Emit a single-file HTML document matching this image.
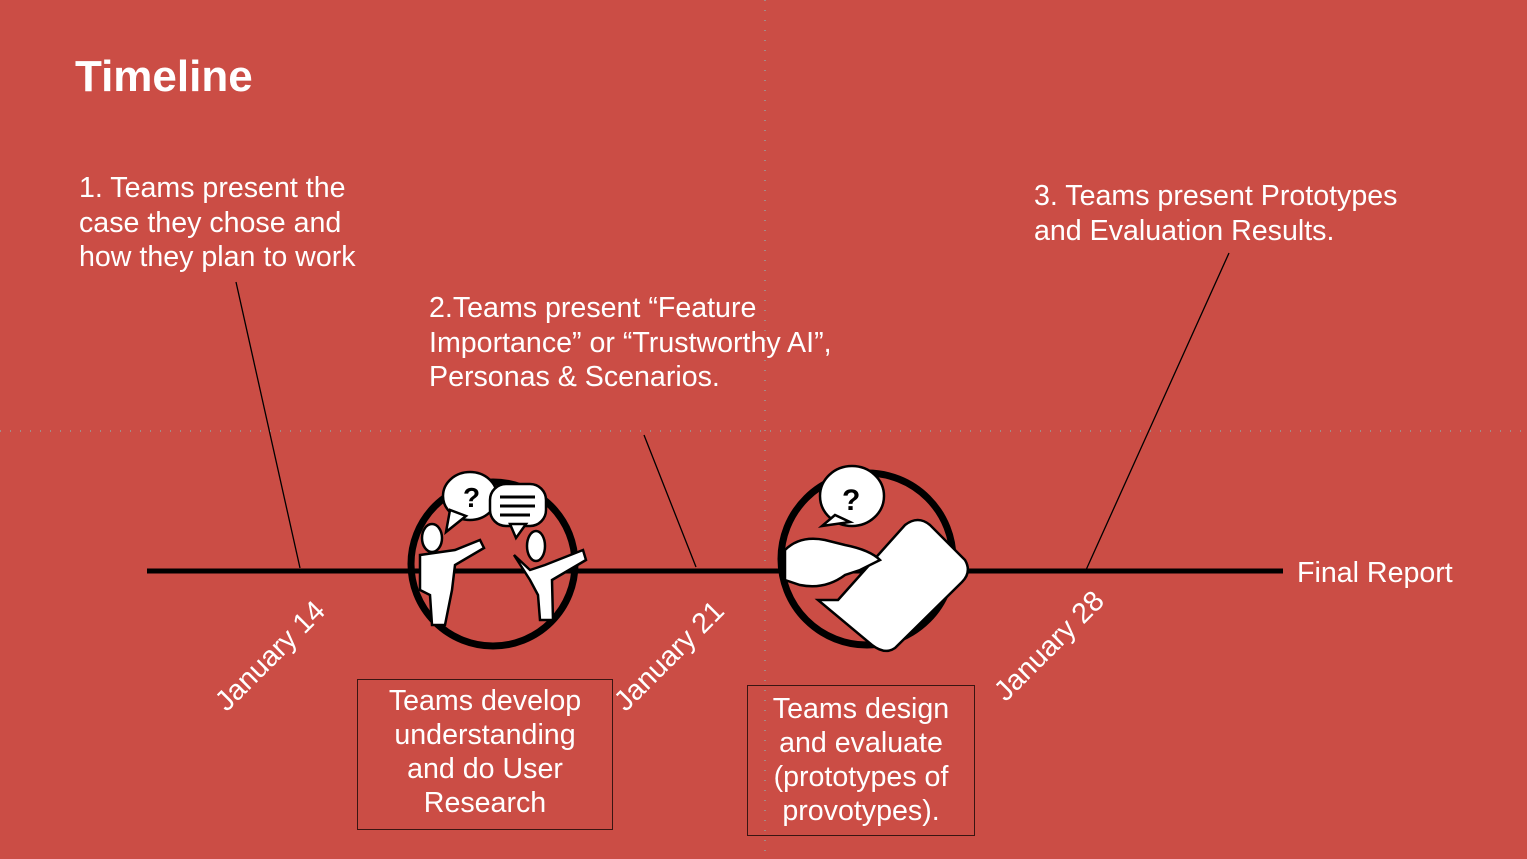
<!DOCTYPE html>
<html><head><style>
body{margin:0;width:1527px;height:859px;background:#CB4D45;position:relative;overflow:hidden;font-family:"Liberation Sans",Arial,sans-serif;color:#fff}
.t{position:absolute;font-size:28.6px;line-height:34.5px;white-space:nowrap}
.box{position:absolute;border:1.5px solid #3a1512;font-size:28.6px;line-height:34px;text-align:center;box-sizing:border-box;white-space:nowrap}
.d{position:absolute;font-size:28.6px;transform:rotate(-45deg);transform-origin:center;white-space:nowrap}
</style></head><body>
<svg width="1527" height="859" style="position:absolute;left:0;top:0">
<g stroke="#7fc8c8" stroke-width="1" stroke-dasharray="1 9">
<line x1="0" y1="431" x2="1527" y2="431"/><line x1="765" y1="0" x2="765" y2="859"/>
</g>
<line x1="147" y1="571" x2="1283" y2="571" stroke="#000" stroke-width="5"/>
<g stroke="#000" stroke-width="1.3">
<line x1="236" y1="282" x2="300" y2="568"/><line x1="644" y1="435" x2="696" y2="567"/><line x1="1229" y1="253" x2="1086" y2="570"/>
</g>
<circle cx="493" cy="564" r="82" fill="none" stroke="#000" stroke-width="7"/>
<circle cx="867" cy="559" r="86" fill="none" stroke="#000" stroke-width="7"/>
<g fill="#fff" stroke="#000" stroke-width="2.5">
<ellipse cx="470" cy="496" rx="27" ry="24"/><path d="M450 510 L446 532 L466 516Z"/>
<rect x="490" y="484" width="56" height="42" rx="16"/><path d="M510 524 L516 538 L526 524Z"/>
<ellipse cx="432" cy="538" rx="10" ry="14"/><path d="M420 555 L455 550 L480 540 L484 548 L455 565 L452 590 L445 625 L432 625 L430 595 L420 590Z"/>
<ellipse cx="536" cy="546" rx="9" ry="15"/><path d="M514 555 L530 570 L545 565 L583 550 L586 560 L552 580 L553 620 L540 620 L538 595 L530 580Z"/>
<ellipse cx="852" cy="496" rx="32" ry="30"/><path d="M835 515 L822 526 L850 522Z"/>
<path d="M838 600 L905 525 Q918 515 930 525 L965 560 Q972 572 962 582 L895 648 Q885 655 872 645 L818 600Z"/>
<path d="M785 550 Q800 535 825 540 L845 545 Q870 550 880 560 L860 570 L845 575 Q825 590 800 585 L785 580Z"/>
</g>
<g fill="#000" font-family="Liberation Sans" font-weight="bold"><text x="463" y="507" font-size="28">?</text><text x="842" y="510" font-size="30">?</text></g>
<g stroke="#000" stroke-width="3"><line x1="500" y1="497" x2="535" y2="497"/><line x1="500" y1="506" x2="535" y2="506"/><line x1="500" y1="515" x2="530" y2="515"/></g>
</svg>
<div style="position:absolute;left:75px;top:52px;font-size:44px;font-weight:bold">Timeline</div>
<div class="t" style="left:79px;top:171px">1. Teams present the<br>case they chose and<br>how they plan to work</div>
<div class="t" style="left:429px;top:291px">2.Teams present “Feature<br>Importance” or “Trustworthy AI”,<br>Personas &amp; Scenarios.</div>
<div class="t" style="left:1034px;top:179px">3. Teams present Prototypes<br>and Evaluation Results.</div>
<div class="t" style="left:1297px;top:556px">Final Report</div>
<div class="d" style="left:200px;top:640px">January 14</div>
<div class="d" style="left:599px;top:640px">January 21</div>
<div class="d" style="left:979px;top:630px">January 28</div>
<div class="box" style="left:357px;top:679px;width:256px;height:151px;padding-top:4px">Teams develop<br>understanding<br>and do User<br>Research</div>
<div class="box" style="left:747px;top:685px;width:228px;height:151px;padding-top:6px">Teams design<br>and evaluate<br>(prototypes of<br>provotypes).</div>
</body></html>
